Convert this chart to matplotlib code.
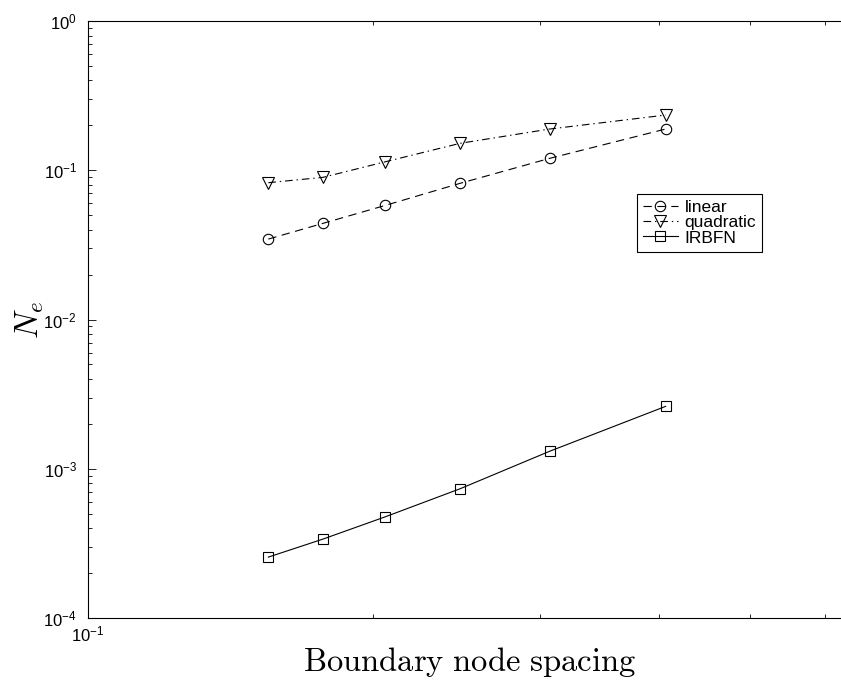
import matplotlib
matplotlib.use("Agg")
import matplotlib.pyplot as plt
from matplotlib.ticker import LogLocator, NullFormatter

# Dados (eixos log-log)
espacamento = [0.155, 0.177, 0.206, 0.247, 0.307, 0.407]
erro_linear = [0.0346, 0.0441, 0.0582, 0.0818, 0.1202, 0.189]
erro_quadratico = [0.0826, 0.0897, 0.1141, 0.1516, 0.189, 0.2345]
erro_irbfn = [2.56e-4, 3.38e-4, 4.77e-4, 7.35e-4, 1.31e-3, 2.62e-3]
nomes = ['linear', 'quadratic', 'IRBFN']

plt.rcParams['font.family'] = ['Liberation Sans', 'DejaVu Sans']
plt.rcParams['mathtext.fontset'] = 'custom'
plt.rcParams['mathtext.rm'] = 'Liberation Sans'
plt.rcParams['mathtext.it'] = 'Liberation Sans:italic'
plt.rcParams['lines.scale_dashes'] = False

fig = plt.figure(figsize=(8.41, 6.88), dpi=100)
# eixo direito fica fora da imagem, como no original
ax = fig.add_axes([0.1046, 0.1017, 0.9061, 0.8677])

lw = 0.8
ax.plot(espacamento, erro_linear, color='black', lw=lw, dashes=(6, 4),
        marker='o', ms=7.5, mfc='none', mec='black', mew=0.8, label=nomes[0])
ax.plot(espacamento, erro_quadratico, color='black', lw=lw, dashes=(5.5, 2.8, 1, 2.8),
        marker='v', ms=8.5, mfc='none', mec='black', mew=0.8, label=nomes[1])
ax.plot(espacamento, erro_irbfn, color='black', lw=lw, linestyle='-',
        marker='s', ms=6.5, mfc='none', mec='black', mew=0.8, label=nomes[2])

ax.set_xscale('log')
ax.set_yscale('log')
ax.set_xlim(0.1, 0.637)
ax.set_ylim(1e-4, 1)

ax.xaxis.set_minor_locator(LogLocator(base=10, subs=range(2, 10)))
ax.xaxis.set_minor_formatter(NullFormatter())
ax.yaxis.set_minor_locator(LogLocator(base=10, subs=range(2, 10)))
ax.yaxis.set_minor_formatter(NullFormatter())

ax.tick_params(which='both', direction='in', top=True, right=True, width=0.6, labelsize=12)
ax.tick_params(which='major', length=5.8)
ax.tick_params(which='minor', length=3.1)
ax.tick_params(axis='y', pad=8)
ax.tick_params(axis='x', pad=5)
for s in ax.spines.values():
    s.set_linewidth(0.8)

ax.set_xlabel(r'$\mathrm{Boundary\ node\ spacing}$', fontsize=23.5, math_fontfamily='cm')
ax.set_ylabel(r'$N_e$', fontsize=23.5, math_fontfamily='cm')
ax.xaxis.set_label_coords(0.5, -0.045)
ax.yaxis.set_label_coords(-0.055, 0.5)

leg = ax.legend(loc='upper left', bbox_to_anchor=(637 / 841, 1 - 194 / 688),
                bbox_transform=fig.transFigure, fontsize=12.5, fancybox=False,
                framealpha=1, edgecolor='black', borderpad=0.35, handlelength=2.0,
                handletextpad=0.4, labelspacing=0.0, borderaxespad=0)
leg.get_frame().set_linewidth(0.8)

fig.savefig('out.png', dpi=100)
